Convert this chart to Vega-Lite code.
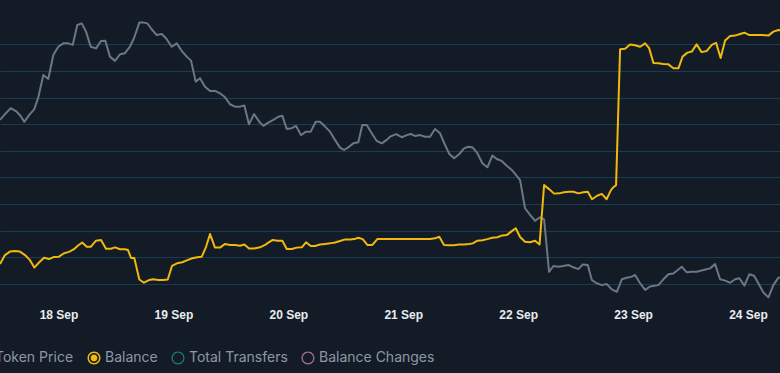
{
  "$schema": "https://vega.github.io/schema/vega-lite/v6.json",
  "width": 780,
  "height": 300,
  "autosize": {"type": "none"},
  "padding": {"left": 0, "top": 0, "right": 0, "bottom": 73},
  "background": "#131b26",
  "config": {
    "view": {"stroke": null},
    "font": "Inter"
  },
  "datasets": {
    "price": [
      {"t": "2023-09-17T11:47Z", "v": 6.16}, {"t": "2023-09-17T12:49Z", "v": 6.38}, {"t": "2023-09-17T14:01Z", "v": 6.60},
      {"t": "2023-09-17T15:16Z", "v": 6.47}, {"t": "2023-09-17T16:06Z", "v": 6.31}, {"t": "2023-09-17T16:51Z", "v": 6.09},
      {"t": "2023-09-17T17:54Z", "v": 6.35}, {"t": "2023-09-17T18:57Z", "v": 6.57}, {"t": "2023-09-17T19:47Z", "v": 7.01},
      {"t": "2023-09-17T20:50Z", "v": 7.85}, {"t": "2023-09-17T21:52Z", "v": 7.70}, {"t": "2023-09-17T22:55Z", "v": 8.60},
      {"t": "2023-09-17T23:57Z", "v": 8.91}, {"t": "2023-09-18T01:00Z", "v": 9.04}, {"t": "2023-09-18T02:03Z", "v": 9.04},
      {"t": "2023-09-18T02:58Z", "v": 8.98}, {"t": "2023-09-18T03:56Z", "v": 9.73}, {"t": "2023-09-18T04:51Z", "v": 9.79},
      {"t": "2023-09-18T05:45Z", "v": 9.48}, {"t": "2023-09-18T06:44Z", "v": 8.91}, {"t": "2023-09-18T07:50Z", "v": 8.85},
      {"t": "2023-09-18T08:53Z", "v": 9.13}, {"t": "2023-09-18T09:47Z", "v": 9.14}, {"t": "2023-09-18T10:45Z", "v": 8.54},
      {"t": "2023-09-18T11:48Z", "v": 8.38}, {"t": "2023-09-18T12:51Z", "v": 8.63}, {"t": "2023-09-18T13:53Z", "v": 8.67},
      {"t": "2023-09-18T14:56Z", "v": 8.92}, {"t": "2023-09-18T15:46Z", "v": 9.23}, {"t": "2023-09-18T16:53Z", "v": 9.82},
      {"t": "2023-09-18T17:43Z", "v": 9.82}, {"t": "2023-09-18T18:33Z", "v": 9.79}, {"t": "2023-09-18T19:28Z", "v": 9.57},
      {"t": "2023-09-18T20:31Z", "v": 9.35}, {"t": "2023-09-18T21:33Z", "v": 9.39}, {"t": "2023-09-18T22:27Z", "v": 9.23},
      {"t": "2023-09-18T23:39Z", "v": 8.91}, {"t": "2023-09-19T00:41Z", "v": 9.04}, {"t": "2023-09-19T01:44Z", "v": 8.76},
      {"t": "2023-09-19T02:47Z", "v": 8.54}, {"t": "2023-09-19T03:41Z", "v": 8.39}, {"t": "2023-09-19T04:39Z", "v": 7.60},
      {"t": "2023-09-19T05:33Z", "v": 7.73}, {"t": "2023-09-19T06:36Z", "v": 7.41}, {"t": "2023-09-19T07:39Z", "v": 7.25},
      {"t": "2023-09-19T08:41Z", "v": 7.25}, {"t": "2023-09-19T09:44Z", "v": 7.16}, {"t": "2023-09-19T10:47Z", "v": 7.01},
      {"t": "2023-09-19T11:49Z", "v": 6.75}, {"t": "2023-09-19T12:52Z", "v": 6.66}, {"t": "2023-09-19T13:55Z", "v": 6.66},
      {"t": "2023-09-19T14:49Z", "v": 6.70}, {"t": "2023-09-19T15:47Z", "v": 6.00}, {"t": "2023-09-19T16:50Z", "v": 6.38},
      {"t": "2023-09-19T18:05Z", "v": 6.06}, {"t": "2023-09-19T18:47Z", "v": 5.94}, {"t": "2023-09-19T19:49Z", "v": 6.06},
      {"t": "2023-09-19T20:52Z", "v": 6.16}, {"t": "2023-09-19T21:55Z", "v": 6.28}, {"t": "2023-09-19T22:45Z", "v": 6.32},
      {"t": "2023-09-19T23:40Z", "v": 5.82}, {"t": "2023-09-20T00:43Z", "v": 5.85}, {"t": "2023-09-20T01:36Z", "v": 5.94},
      {"t": "2023-09-20T02:39Z", "v": 5.59}, {"t": "2023-09-20T03:42Z", "v": 5.72}, {"t": "2023-09-20T04:41Z", "v": 5.72},
      {"t": "2023-09-20T05:43Z", "v": 6.09}, {"t": "2023-09-20T06:37Z", "v": 6.09}, {"t": "2023-09-20T07:40Z", "v": 5.91},
      {"t": "2023-09-20T08:43Z", "v": 5.72}, {"t": "2023-09-20T09:45Z", "v": 5.41}, {"t": "2023-09-20T10:48Z", "v": 5.12},
      {"t": "2023-09-20T11:38Z", "v": 5.03}, {"t": "2023-09-20T12:32Z", "v": 5.13}, {"t": "2023-09-20T13:35Z", "v": 5.28},
      {"t": "2023-09-20T14:37Z", "v": 5.32}, {"t": "2023-09-20T15:27Z", "v": 5.97}, {"t": "2023-09-20T16:23Z", "v": 5.97},
      {"t": "2023-09-20T17:25Z", "v": 5.66}, {"t": "2023-09-20T18:28Z", "v": 5.37}, {"t": "2023-09-20T19:31Z", "v": 5.28},
      {"t": "2023-09-20T20:33Z", "v": 5.41}, {"t": "2023-09-20T21:15Z", "v": 5.53}, {"t": "2023-09-20T22:30Z", "v": 5.63},
      {"t": "2023-09-20T23:41Z", "v": 5.51}, {"t": "2023-09-21T00:44Z", "v": 5.59}, {"t": "2023-09-21T01:34Z", "v": 5.63},
      {"t": "2023-09-21T02:28Z", "v": 5.56}, {"t": "2023-09-21T03:31Z", "v": 5.59}, {"t": "2023-09-21T04:33Z", "v": 5.53},
      {"t": "2023-09-21T05:36Z", "v": 5.53}, {"t": "2023-09-21T06:38Z", "v": 5.82}, {"t": "2023-09-21T07:41Z", "v": 5.66},
      {"t": "2023-09-21T08:35Z", "v": 5.28}, {"t": "2023-09-21T09:38Z", "v": 4.88}, {"t": "2023-09-21T10:37Z", "v": 4.72},
      {"t": "2023-09-21T11:43Z", "v": 4.88}, {"t": "2023-09-21T12:42Z", "v": 5.09}, {"t": "2023-09-21T13:36Z", "v": 5.15},
      {"t": "2023-09-21T14:31Z", "v": 5.12}, {"t": "2023-09-21T15:29Z", "v": 4.91}, {"t": "2023-09-21T16:31Z", "v": 4.53},
      {"t": "2023-09-21T17:34Z", "v": 4.38}, {"t": "2023-09-21T18:37Z", "v": 4.82}, {"t": "2023-09-21T19:32Z", "v": 4.69},
      {"t": "2023-09-21T20:34Z", "v": 4.62}, {"t": "2023-09-21T21:37Z", "v": 4.44}, {"t": "2023-09-21T22:40Z", "v": 4.28},
      {"t": "2023-09-21T23:42Z", "v": 4.06}, {"t": "2023-09-22T00:24Z", "v": 3.90}, {"t": "2023-09-22T01:26Z", "v": 2.84},
      {"t": "2023-09-22T02:29Z", "v": 2.59}, {"t": "2023-09-22T03:32Z", "v": 2.37}, {"t": "2023-09-22T04:34Z", "v": 2.50},
      {"t": "2023-09-22T05:25Z", "v": 2.42}, {"t": "2023-09-22T06:27Z", "v": 0.45}, {"t": "2023-09-22T07:21Z", "v": 0.67},
      {"t": "2023-09-22T08:24Z", "v": 0.64}, {"t": "2023-09-22T09:26Z", "v": 0.67}, {"t": "2023-09-22T10:29Z", "v": 0.71},
      {"t": "2023-09-22T11:32Z", "v": 0.62}, {"t": "2023-09-22T12:35Z", "v": 0.55}, {"t": "2023-09-22T13:30Z", "v": 0.73},
      {"t": "2023-09-22T14:32Z", "v": 0.71}, {"t": "2023-09-22T15:23Z", "v": 0.14}, {"t": "2023-09-22T16:25Z", "v": 0.02},
      {"t": "2023-09-22T17:28Z", "v": -0.05}, {"t": "2023-09-22T18:31Z", "v": -0.01}, {"t": "2023-09-22T19:33Z", "v": -0.21},
      {"t": "2023-09-22T20:36Z", "v": -0.30}, {"t": "2023-09-22T21:39Z", "v": 0.17}, {"t": "2023-09-22T22:41Z", "v": 0.23},
      {"t": "2023-09-22T23:44Z", "v": 0.27}, {"t": "2023-09-23T00:25Z", "v": 0.33}, {"t": "2023-09-23T01:28Z", "v": 0.02},
      {"t": "2023-09-23T02:31Z", "v": -0.23}, {"t": "2023-09-23T03:33Z", "v": -0.10}, {"t": "2023-09-23T05:17Z", "v": -0.05},
      {"t": "2023-09-23T06:20Z", "v": 0.17}, {"t": "2023-09-23T07:23Z", "v": 0.36}, {"t": "2023-09-23T08:25Z", "v": 0.39},
      {"t": "2023-09-23T10:10Z", "v": 0.64}, {"t": "2023-09-23T11:13Z", "v": 0.43}, {"t": "2023-09-23T12:16Z", "v": 0.45},
      {"t": "2023-09-23T13:18Z", "v": 0.45}, {"t": "2023-09-23T14:41Z", "v": 0.52}, {"t": "2023-09-23T16:05Z", "v": 0.58},
      {"t": "2023-09-23T17:08Z", "v": 0.74}, {"t": "2023-09-23T18:10Z", "v": 0.17}, {"t": "2023-09-23T19:13Z", "v": 0.12},
      {"t": "2023-09-23T20:16Z", "v": 0.04}, {"t": "2023-09-23T21:18Z", "v": 0.17}, {"t": "2023-09-23T22:12Z", "v": 0.21},
      {"t": "2023-09-23T23:15Z", "v": -0.07}, {"t": "2023-09-24T00:17Z", "v": 0.36}, {"t": "2023-09-24T01:16Z", "v": 0.30},
      {"t": "2023-09-24T02:10Z", "v": 0.02}, {"t": "2023-09-24T03:13Z", "v": -0.33}, {"t": "2023-09-24T04:16Z", "v": -0.51},
      {"t": "2023-09-24T05:18Z", "v": -0.05}, {"t": "2023-09-24T06:21Z", "v": 0.23}, {"t": "2023-09-24T07:00Z", "v": 0.25}
    ],
    "balance": [
      {"t": "2023-09-17T11:47Z", "v": 0.74}, {"t": "2023-09-17T12:49Z", "v": 1.08}, {"t": "2023-09-17T13:52Z", "v": 1.21},
      {"t": "2023-09-17T14:55Z", "v": 1.23}, {"t": "2023-09-17T15:57Z", "v": 1.21}, {"t": "2023-09-17T17:00Z", "v": 1.08},
      {"t": "2023-09-17T18:03Z", "v": 0.89}, {"t": "2023-09-17T18:57Z", "v": 0.61}, {"t": "2023-09-17T19:59Z", "v": 0.81},
      {"t": "2023-09-17T20:58Z", "v": 0.98}, {"t": "2023-09-17T22:01Z", "v": 0.93}, {"t": "2023-09-17T23:04Z", "v": 1.01},
      {"t": "2023-09-18T00:06Z", "v": 1.02}, {"t": "2023-09-18T01:09Z", "v": 1.15}, {"t": "2023-09-18T02:12Z", "v": 1.20},
      {"t": "2023-09-18T03:14Z", "v": 1.30}, {"t": "2023-09-18T04:08Z", "v": 1.45}, {"t": "2023-09-18T04:58Z", "v": 1.55},
      {"t": "2023-09-18T05:53Z", "v": 1.39}, {"t": "2023-09-18T06:44Z", "v": 1.39}, {"t": "2023-09-18T07:50Z", "v": 1.62},
      {"t": "2023-09-18T08:53Z", "v": 1.65}, {"t": "2023-09-18T09:55Z", "v": 1.32}, {"t": "2023-09-18T10:58Z", "v": 1.32},
      {"t": "2023-09-18T11:48Z", "v": 1.37}, {"t": "2023-09-18T12:51Z", "v": 1.30}, {"t": "2023-09-18T13:53Z", "v": 1.30},
      {"t": "2023-09-18T14:31Z", "v": 1.27}, {"t": "2023-09-18T15:09Z", "v": 0.97}, {"t": "2023-09-18T15:50Z", "v": 0.97},
      {"t": "2023-09-18T16:53Z", "v": 0.16}, {"t": "2023-09-18T17:51Z", "v": 0.04}, {"t": "2023-09-18T18:54Z", "v": 0.14},
      {"t": "2023-09-18T19:48Z", "v": 0.17}, {"t": "2023-09-18T20:51Z", "v": 0.14}, {"t": "2023-09-18T21:53Z", "v": 0.14},
      {"t": "2023-09-18T22:49Z", "v": 0.16}, {"t": "2023-09-18T23:42Z", "v": 0.67}, {"t": "2023-09-19T00:45Z", "v": 0.77},
      {"t": "2023-09-19T01:52Z", "v": 0.81}, {"t": "2023-09-19T02:54Z", "v": 0.89}, {"t": "2023-09-19T03:57Z", "v": 0.96},
      {"t": "2023-09-19T04:59Z", "v": 1.00}, {"t": "2023-09-19T05:55Z", "v": 1.02}, {"t": "2023-09-19T06:49Z", "v": 1.39},
      {"t": "2023-09-19T07:39Z", "v": 1.87}, {"t": "2023-09-19T08:41Z", "v": 1.36}, {"t": "2023-09-19T09:44Z", "v": 1.36},
      {"t": "2023-09-19T10:47Z", "v": 1.50}, {"t": "2023-09-19T11:49Z", "v": 1.46}, {"t": "2023-09-19T12:52Z", "v": 1.46},
      {"t": "2023-09-19T13:55Z", "v": 1.43}, {"t": "2023-09-19T14:49Z", "v": 1.48}, {"t": "2023-09-19T15:47Z", "v": 1.33},
      {"t": "2023-09-19T16:50Z", "v": 1.33}, {"t": "2023-09-19T18:05Z", "v": 1.37}, {"t": "2023-09-19T19:08Z", "v": 1.46},
      {"t": "2023-09-19T19:49Z", "v": 1.55}, {"t": "2023-09-19T20:44Z", "v": 1.65}, {"t": "2023-09-19T21:42Z", "v": 1.62},
      {"t": "2023-09-19T22:45Z", "v": 1.62}, {"t": "2023-09-19T23:40Z", "v": 1.31}, {"t": "2023-09-20T00:43Z", "v": 1.31},
      {"t": "2023-09-20T01:45Z", "v": 1.36}, {"t": "2023-09-20T02:48Z", "v": 1.37}, {"t": "2023-09-20T03:42Z", "v": 1.56},
      {"t": "2023-09-20T04:41Z", "v": 1.42}, {"t": "2023-09-20T05:35Z", "v": 1.42}, {"t": "2023-09-20T06:37Z", "v": 1.48},
      {"t": "2023-09-20T07:40Z", "v": 1.50}, {"t": "2023-09-20T08:43Z", "v": 1.52}, {"t": "2023-09-20T09:45Z", "v": 1.55},
      {"t": "2023-09-20T10:48Z", "v": 1.61}, {"t": "2023-09-20T11:51Z", "v": 1.67}, {"t": "2023-09-20T12:53Z", "v": 1.67},
      {"t": "2023-09-20T13:47Z", "v": 1.68}, {"t": "2023-09-20T14:37Z", "v": 1.73}, {"t": "2023-09-20T15:32Z", "v": 1.68},
      {"t": "2023-09-20T16:30Z", "v": 1.46}, {"t": "2023-09-20T17:33Z", "v": 1.46}, {"t": "2023-09-20T18:35Z", "v": 1.68},
      {"t": "2023-09-20T19:38Z", "v": 1.68}, {"t": "2023-09-20T21:15Z", "v": 1.68}, {"t": "2023-09-21T01:34Z", "v": 1.68},
      {"t": "2023-09-21T05:36Z", "v": 1.68}, {"t": "2023-09-21T06:38Z", "v": 1.71}, {"t": "2023-09-21T07:32Z", "v": 1.77},
      {"t": "2023-09-21T08:31Z", "v": 1.46}, {"t": "2023-09-21T09:34Z", "v": 1.45}, {"t": "2023-09-21T10:37Z", "v": 1.45},
      {"t": "2023-09-21T11:39Z", "v": 1.48}, {"t": "2023-09-21T12:42Z", "v": 1.48}, {"t": "2023-09-21T13:45Z", "v": 1.50},
      {"t": "2023-09-21T14:31Z", "v": 1.52}, {"t": "2023-09-21T15:29Z", "v": 1.62}, {"t": "2023-09-21T16:31Z", "v": 1.64},
      {"t": "2023-09-21T17:34Z", "v": 1.68}, {"t": "2023-09-21T18:37Z", "v": 1.73}, {"t": "2023-09-21T19:39Z", "v": 1.75},
      {"t": "2023-09-21T20:42Z", "v": 1.82}, {"t": "2023-09-21T21:37Z", "v": 1.83}, {"t": "2023-09-21T22:40Z", "v": 1.98},
      {"t": "2023-09-21T23:30Z", "v": 2.09}, {"t": "2023-09-22T00:24Z", "v": 1.76}, {"t": "2023-09-22T01:26Z", "v": 1.58},
      {"t": "2023-09-22T02:29Z", "v": 1.56}, {"t": "2023-09-22T03:32Z", "v": 1.62}, {"t": "2023-09-22T04:28Z", "v": 1.48},
      {"t": "2023-09-22T05:25Z", "v": 3.71}, {"t": "2023-09-22T06:27Z", "v": 3.56}, {"t": "2023-09-22T07:30Z", "v": 3.39},
      {"t": "2023-09-22T08:33Z", "v": 3.40}, {"t": "2023-09-22T09:35Z", "v": 3.44}, {"t": "2023-09-22T10:38Z", "v": 3.46},
      {"t": "2023-09-22T11:32Z", "v": 3.46}, {"t": "2023-09-22T12:35Z", "v": 3.40}, {"t": "2023-09-22T13:37Z", "v": 3.44},
      {"t": "2023-09-22T14:32Z", "v": 3.46}, {"t": "2023-09-22T15:26Z", "v": 3.18}, {"t": "2023-09-22T16:29Z", "v": 3.31},
      {"t": "2023-09-22T17:28Z", "v": 3.38}, {"t": "2023-09-22T18:28Z", "v": 3.18}, {"t": "2023-09-22T19:21Z", "v": 3.51},
      {"t": "2023-09-22T19:49Z", "v": 3.62}, {"t": "2023-09-22T20:27Z", "v": 3.71}, {"t": "2023-09-22T21:17Z", "v": 8.82},
      {"t": "2023-09-22T22:20Z", "v": 8.84}, {"t": "2023-09-22T23:22Z", "v": 9.00}, {"t": "2023-09-23T00:25Z", "v": 8.97},
      {"t": "2023-09-23T01:28Z", "v": 8.91}, {"t": "2023-09-23T02:31Z", "v": 9.04}, {"t": "2023-09-23T03:21Z", "v": 8.86},
      {"t": "2023-09-23T04:15Z", "v": 8.30}, {"t": "2023-09-23T05:17Z", "v": 8.29}, {"t": "2023-09-23T06:20Z", "v": 8.26},
      {"t": "2023-09-23T07:23Z", "v": 8.25}, {"t": "2023-09-23T08:25Z", "v": 8.10}, {"t": "2023-09-23T09:28Z", "v": 8.10},
      {"t": "2023-09-23T10:20Z", "v": 8.54}, {"t": "2023-09-23T11:20Z", "v": 8.69}, {"t": "2023-09-23T12:16Z", "v": 8.73},
      {"t": "2023-09-23T13:16Z", "v": 9.00}, {"t": "2023-09-23T14:19Z", "v": 8.71}, {"t": "2023-09-23T15:21Z", "v": 8.75},
      {"t": "2023-09-23T16:26Z", "v": 8.98}, {"t": "2023-09-23T17:20Z", "v": 9.06}, {"t": "2023-09-23T18:17Z", "v": 8.49},
      {"t": "2023-09-23T19:13Z", "v": 9.15}, {"t": "2023-09-23T20:16Z", "v": 9.32}, {"t": "2023-09-23T21:18Z", "v": 9.33},
      {"t": "2023-09-23T22:21Z", "v": 9.39}, {"t": "2023-09-23T23:15Z", "v": 9.44}, {"t": "2023-09-24T00:17Z", "v": 9.35},
      {"t": "2023-09-24T01:29Z", "v": 9.35}, {"t": "2023-09-24T02:53Z", "v": 9.35}, {"t": "2023-09-24T04:16Z", "v": 9.33},
      {"t": "2023-09-24T05:18Z", "v": 9.48}, {"t": "2023-09-24T06:21Z", "v": 9.54}, {"t": "2023-09-24T07:00Z", "v": 9.52}
    ]
  },
  "encoding": {
    "x": {
      "field": "t", "type": "temporal",
      "scale": {"type": "utc", "domain": [
        {"year": 2023, "month": 9, "date": 17, "hours": 11, "minutes": 47, "utc": true},
        {"year": 2023, "month": 9, "date": 24, "hours": 6, "minutes": 41, "utc": true}
      ]},
      "axis": {
        "title": null,
        "values": [
          {"year": 2023, "month": 9, "date": 18, "utc": true},
          {"year": 2023, "month": 9, "date": 19, "utc": true},
          {"year": 2023, "month": 9, "date": 20, "utc": true},
          {"year": 2023, "month": 9, "date": 21, "utc": true},
          {"year": 2023, "month": 9, "date": 22, "utc": true},
          {"year": 2023, "month": 9, "date": 23, "utc": true},
          {"year": 2023, "month": 9, "date": 24, "utc": true}
        ],
        "labelExpr": "utcFormat(datum.value, '%-d %b')",
        "grid": false, "ticks": false, "domain": false,
        "labelFont": "Liberation Sans", "labelFontWeight": "bold", "labelFontSize": 12,
        "labelColor": "#e8ecf0", "labelPadding": 9, "labelFlush": false, "labelOverlap": false
      }
    },
    "y": {
      "field": "v", "type": "quantitative",
      "scale": {"domain": [-0.609, 10.669], "nice": false, "zero": false},
      "axis": {
        "title": null, "values": [0, 1, 2, 3, 4, 5, 6, 7, 8, 9],
        "labels": false, "ticks": false, "domain": false,
        "grid": true, "gridColor": "#1b3a56", "gridWidth": 1, "gridOpacity": 1
      }
    },
    "color": {
      "field": "series", "type": "nominal",
      "scale": {
        "domain": ["Token Price", "Balance", "Total Transfers", "Balance Changes"],
        "range": ["#6b7785", "#f0b90b", "#1c7a72", "#a8708f"]
      },
      "legend": {
        "title": null,
        "orient": "none",
        "legendX": -23,
        "legendY": 351,
        "direction": "horizontal",
        "labelFont": "Inter",
        "labelFontSize": 14,
        "labelColor": "#8d98a5",
        "labelOffset": 4,
        "columnPadding": 13,
        "symbolSize": 169,
        "encode": {
          "symbols": {
            "update": {
              "shape": {"signal": "datum.value === 'Balance' ? 'M0,-1A1,1,0,1,1,0,1A1,1,0,1,1,0,-1ZM0,-0.77A0.77,0.77,0,1,0,0,0.77A0.77,0.77,0,1,0,0,-0.77ZM0,-0.52A0.52,0.52,0,1,1,0,0.52A0.52,0.52,0,1,1,0,-0.52Z' : 'M0,-1A1,1,0,1,1,0,1A1,1,0,1,1,0,-1ZM0,-0.8A0.8,0.8,0,1,0,0,0.8A0.8,0.8,0,1,0,0,-0.8Z'"},
              "fill": {"scale": "color", "field": "value"},
              "stroke": {"value": "transparent"},
              "strokeWidth": {"value": 0},
              "opacity": {"value": 1},
              "fillOpacity": {"value": 1}
            }
          }
        }
      }
    }
  },
  "layer": [
    {
      "data": {"name": "price"},
      "transform": [{"calculate": "'Token Price'", "as": "series"}],
      "mark": {"type": "line", "strokeWidth": 2, "clip": true, "strokeJoin": "round"}
    },
    {
      "data": {"name": "balance"},
      "transform": [{"calculate": "'Balance'", "as": "series"}],
      "mark": {"type": "line", "strokeWidth": 2, "clip": true, "strokeJoin": "round"}
    }
  ]
}
